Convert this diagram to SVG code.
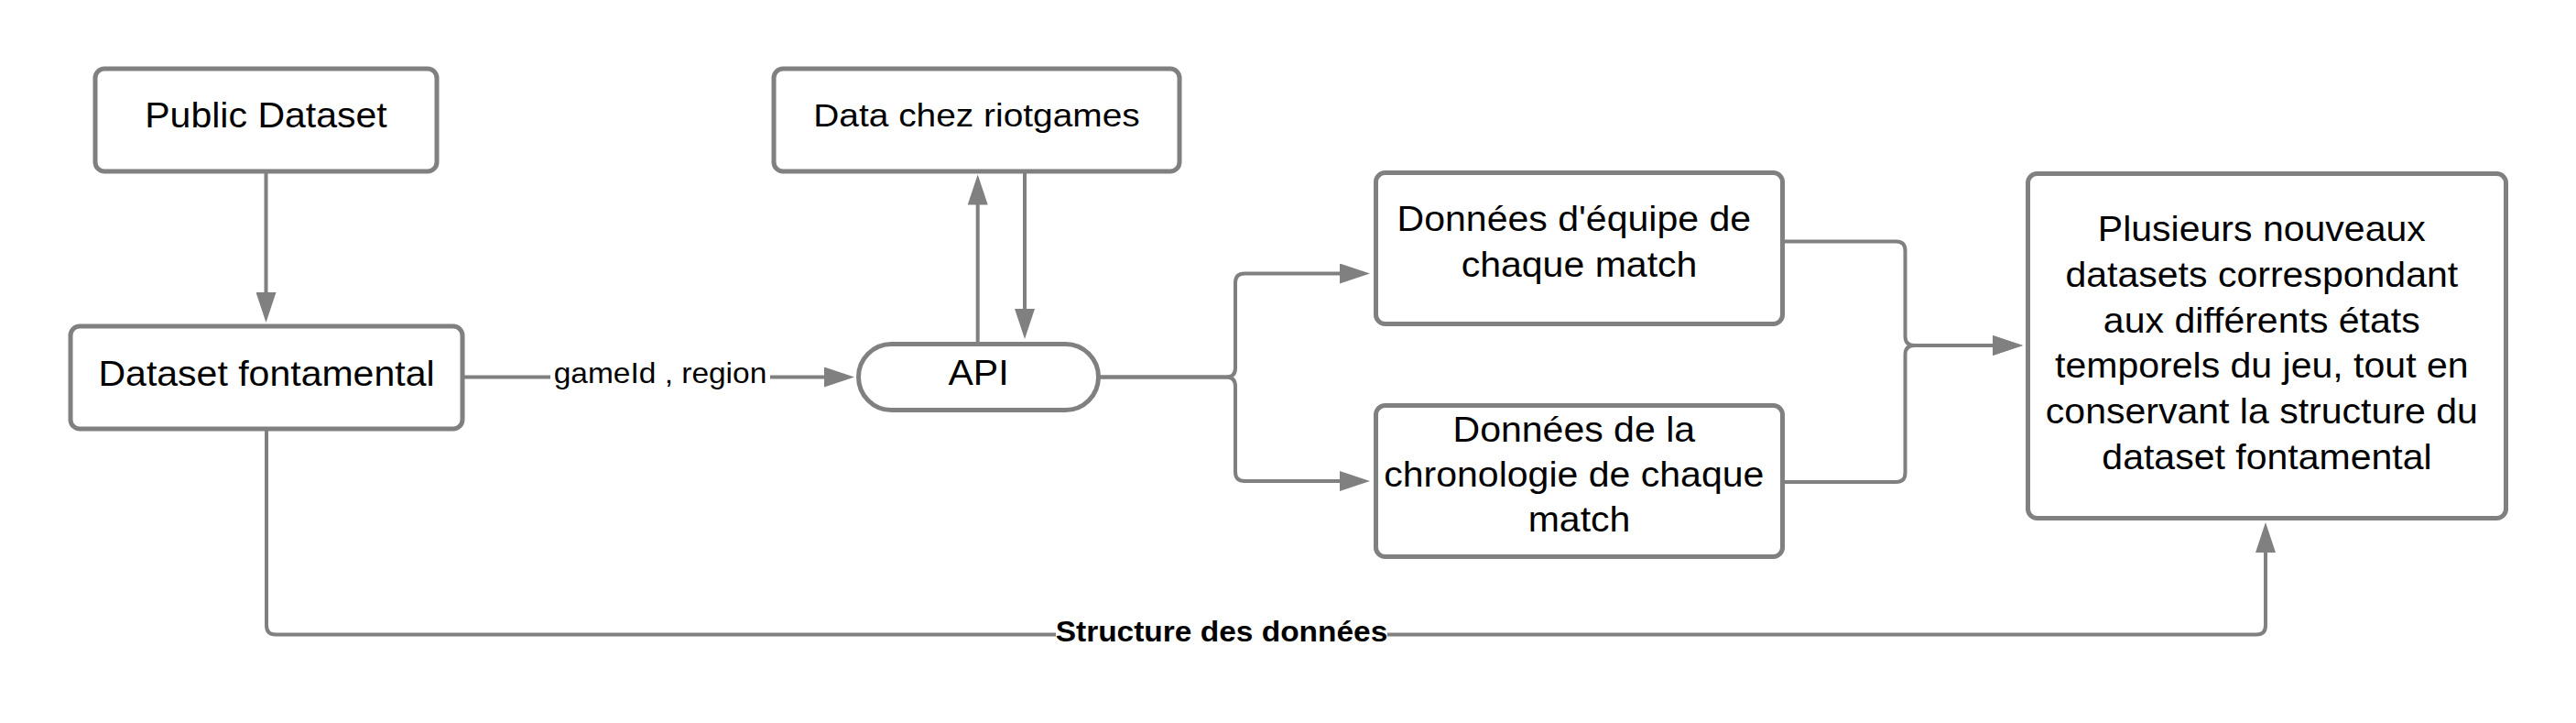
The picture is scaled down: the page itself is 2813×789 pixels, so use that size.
<svg xmlns="http://www.w3.org/2000/svg" width="2813" height="789" viewBox="0 0 2813 789">
<style>
.node rect{fill:#fff;stroke:#808080;stroke-width:5}
.edge{fill:none;stroke:#808080;stroke-width:4}
.t{font-family:"Liberation Sans",Arial,sans-serif;font-size:38px;fill:#000;text-anchor:middle}
.lbl{font-size:31px}
.b{font-weight:bold}
.bg{fill:#fff;stroke:none}
</style>
<defs>
<marker id="arr" markerUnits="userSpaceOnUse" viewBox="0 0 34 22" markerWidth="34" markerHeight="22" refX="1" refY="11" orient="auto">
<path d="M0,0 L33,11 L0,22 Z" fill="#808080"/>
</marker>
</defs>
<rect width="2813" height="789" fill="#fff"/>
<g id="connectors">
<path class="edge" d="M290.5,189 L290.5,320" marker-end="url(#arr)"/>
<path class="edge" d="M507,411.5 L901,411.5" marker-end="url(#arr)"/>
<path class="edge" d="M1067.7,373 L1067.7,222.5" marker-end="url(#arr)"/>
<path class="edge" d="M1119,189 L1119,338" marker-end="url(#arr)"/>
<path class="edge" d="M1200,411.5 H1339 Q1349,411.5 1349,401.5 V308.5 Q1349,298.5 1359,298.5 H1464" marker-end="url(#arr)"/>
<path class="edge" d="M1200,411.5 H1339 Q1349,411.5 1349,421.5 V515 Q1349,525 1359,525 H1464" marker-end="url(#arr)"/>
<path class="edge" d="M1949,263.5 H2070.5 Q2080.5,263.5 2080.5,273.5 V367 Q2080.5,377 2090.5,377 H2177" marker-end="url(#arr)"/>
<path class="edge" d="M1949,526 H2070.5 Q2080.5,526 2080.5,516 V387 Q2080.5,377 2090.5,377 H2177" marker-end="url(#arr)"/>
<path class="edge" d="M291,470 V682.5 Q291,692.5 301,692.5 H2464 Q2474,692.5 2474,682.5 V602" marker-end="url(#arr)"/>
<g id="label-gameid">
<rect class="bg" x="601" y="393" width="240" height="34"/>
<text class="t lbl" transform="translate(721,0) scale(1.08,1)" x="0" y="418.5">gameId , region</text>
</g>
<g id="label-structure">
<rect class="bg" x="1153" y="675" width="362" height="34"/>
<text class="t lbl b" transform="translate(1334,0) scale(1.08,1)" x="0" y="700">Structure des données</text>
</g>
</g>
<g id="public-dataset" class="node">
<rect x="104" y="75" width="373" height="112" rx="10"/>
<text class="t" transform="translate(290.5,0) scale(1.08,1)" x="0" y="139">Public Dataset</text>
</g>
<g id="dataset-fontamental" class="node">
<rect x="77" y="356" width="428" height="112" rx="10"/>
<text class="t" transform="translate(291,0) scale(1.08,1)" x="0" y="421">Dataset fontamental</text>
</g>
<g id="data-riotgames" class="node">
<rect x="845" y="75" width="443" height="112" rx="10"/>
<text class="t" style="font-size:36px" transform="translate(1066.5,0) scale(1.08,1)" x="0" y="138">Data chez riotgames</text>
</g>
<g id="api" class="node">
<rect x="937.5" y="375.5" width="262" height="72" rx="36"/>
<text class="t" transform="translate(1068.5,0) scale(1.08,1)" x="0" y="420">API</text>
</g>
<g id="donnees-equipe" class="node">
<rect x="1502.5" y="188.5" width="444" height="165" rx="10"/>
<text class="t" transform="translate(1724.5,0) scale(1.08,1)">
<tspan x="0" y="252">Données d'équipe de</tspan>
<tspan x="0" y="302">chaque match</tspan>
</text>
</g>
<g id="donnees-chronologie" class="node">
<rect x="1502.5" y="442.5" width="444" height="165" rx="10"/>
<text class="t" transform="translate(1724.5,0) scale(1.08,1)">
<tspan x="0" y="482">Données de la</tspan>
<tspan x="0" y="531">chronologie de chaque</tspan>
<tspan x="0" y="580">match</tspan>
</text>
</g>
<g id="nouveaux-datasets" class="node">
<rect x="2214.5" y="189.5" width="522" height="376" rx="10"/>
<text class="t" transform="translate(2475.5,0) scale(1.08,1)">
<tspan x="0" y="263.5">Plusieurs nouveaux</tspan>
<tspan x="0" y="313">datasets correspondant</tspan>
<tspan x="0" y="363">aux différents états</tspan>
<tspan x="0" y="412.5">temporels du jeu, tout en</tspan>
<tspan x="0" y="462">conservant la structure du</tspan>
<tspan x="0" y="512">dataset fontamental</tspan>
</text>
</g>
</svg>
